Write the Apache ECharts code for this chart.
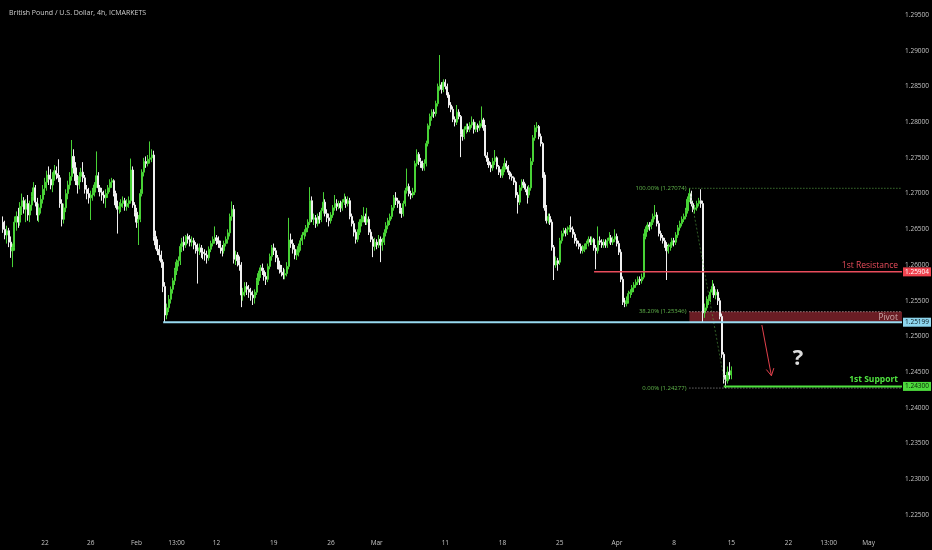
<!DOCTYPE html>
<html><head><meta charset="utf-8">
<script src="https://cdn.jsdelivr.net/npm/echarts@6/dist/echarts.min.js"></script>
<style>html,body{margin:0;padding:0;background:#000;}#c{width:932px;height:550px;}</style>
</head><body><div id="c"></div>
<script>
// ---- 4h candles [open, high, low, close], one array per trading week ----
const w0116 = [
[1.2660,1.2668,1.2645,1.2650],[1.2650,1.2662,1.2636,1.2642],[1.2642,1.2655,1.2630,1.2648],[1.2648,1.2652,1.2625,1.2632],
[1.2632,1.2640,1.2610,1.2620],[1.2620,1.2630,1.2597,1.2625],[1.2625,1.2668,1.2620,1.2660],[1.2660,1.2675,1.2648,1.2668],[1.2668,1.2680,1.2652,1.2660],[1.2660,1.2688,1.2655,1.2682],
[1.2682,1.2700,1.2670,1.2690],[1.2690,1.2695,1.2672,1.2678],[1.2678,1.2692,1.2660,1.2686],[1.2686,1.2698,1.2662,1.2670],[1.2670,1.2690,1.2660,1.2684],[1.2684,1.2702,1.2676,1.2696],
[1.2696,1.2716,1.2690,1.2708],[1.2708,1.2712,1.2682,1.2688],[1.2688,1.2694,1.2662,1.2670],[1.2670,1.2686,1.2660,1.2680],[1.2680,1.2698,1.2672,1.2692],[1.2692,1.2712,1.2686,1.2706]];
const w0122 = [
[1.2708,1.2722,1.2698,1.2716],[1.2716,1.2732,1.2704,1.2726],[1.2726,1.2738,1.2712,1.2720],[1.2720,1.2734,1.2706,1.2712],[1.2712,1.2730,1.2702,1.2726],[1.2726,1.2740,1.2718,1.2732],
[1.2732,1.2738,1.2720,1.2728],[1.2728,1.2748,1.2716,1.2722],[1.2722,1.2726,1.2680,1.2686],[1.2686,1.2692,1.2654,1.2664],[1.2664,1.2686,1.2658,1.2680],[1.2680,1.2706,1.2674,1.2700],
[1.2700,1.2718,1.2692,1.2712],[1.2712,1.2730,1.2706,1.2724],[1.2724,1.2775,1.2718,1.2752],[1.2752,1.2762,1.2728,1.2736],[1.2736,1.2744,1.2712,1.2718],[1.2718,1.2726,1.2700,1.2712],
[1.2712,1.2730,1.2706,1.2724],[1.2724,1.2736,1.2716,1.2730],[1.2730,1.2744,1.2716,1.2722],[1.2722,1.2726,1.2700,1.2706],[1.2706,1.2712,1.2692,1.2700],[1.2700,1.2708,1.2686,1.2694],
[1.2694,1.2704,1.2663,1.2698],[1.2698,1.2708,1.2690,1.2702],[1.2702,1.2716,1.2696,1.2712],[1.2712,1.2759,1.2708,1.2725],[1.2725,1.2730,1.2702,1.2708],[1.2708,1.2712,1.2696,1.2702]];
const w0129 = [
[1.2702,1.2708,1.2690,1.2698],[1.2698,1.2704,1.2686,1.2694],[1.2694,1.2706,1.2680,1.2700],[1.2700,1.2712,1.2694,1.2708],[1.2708,1.2720,1.2702,1.2716],[1.2716,1.2722,1.2708,1.2718],
[1.2718,1.2720,1.2696,1.2700],[1.2700,1.2704,1.2680,1.2684],[1.2684,1.2690,1.2644,1.2678],[1.2678,1.2688,1.2672,1.2682],[1.2682,1.2692,1.2674,1.2686],[1.2686,1.2696,1.2680,1.2690],
[1.2690,1.2694,1.2676,1.2682],[1.2682,1.2692,1.2676,1.2686],[1.2686,1.2696,1.2680,1.2690],[1.2690,1.2749,1.2686,1.2733],[1.2733,1.2738,1.2680,1.2684],[1.2684,1.2688,1.2668,1.2674],
[1.2674,1.2680,1.2652,1.2660],[1.2660,1.2670,1.2628,1.2664],[1.2664,1.2706,1.2660,1.2700],[1.2700,1.2734,1.2696,1.2730],[1.2730,1.2750,1.2724,1.2745],[1.2745,1.2752,1.2736,1.2742],
[1.2742,1.2754,1.2738,1.2748],[1.2748,1.2773,1.2742,1.2750],[1.2750,1.2762,1.2744,1.2754],[1.2754,1.2760,1.2634,1.2640],[1.2640,1.2648,1.2622,1.2628],[1.2628,1.2636,1.2614,1.2620]];
const w0205 = [
[1.2622,1.2628,1.2606,1.2614],[1.2614,1.2620,1.2596,1.2604],[1.2604,1.2608,1.2562,1.2570],[1.2570,1.2576,1.2519,1.2530],[1.2530,1.2546,1.2524,1.2540],[1.2540,1.2558,1.2534,1.2552],
[1.2552,1.2570,1.2546,1.2566],[1.2566,1.2582,1.2560,1.2578],[1.2578,1.2596,1.2572,1.2592],[1.2592,1.2608,1.2586,1.2604],[1.2604,1.2612,1.2598,1.2606],[1.2606,1.2630,1.2600,1.2626],
[1.2626,1.2638,1.2618,1.2632],[1.2632,1.2640,1.2620,1.2628],[1.2628,1.2642,1.2624,1.2640],[1.2640,1.2644,1.2630,1.2636],[1.2636,1.2642,1.2626,1.2632],[1.2632,1.2640,1.2626,1.2634],
[1.2634,1.2638,1.2622,1.2628],[1.2628,1.2632,1.2616,1.2622],[1.2622,1.2630,1.2574,1.2620],[1.2620,1.2630,1.2614,1.2624],[1.2624,1.2628,1.2610,1.2618],[1.2618,1.2624,1.2608,1.2616],
[1.2616,1.2622,1.2606,1.2614],[1.2614,1.2620,1.2602,1.2610],[1.2610,1.2626,1.2606,1.2622],[1.2622,1.2634,1.2618,1.2630],[1.2630,1.2640,1.2626,1.2636],[1.2636,1.2654,1.2630,1.2638]];
const w0212 = [
[1.2638,1.2642,1.2628,1.2634],[1.2634,1.2640,1.2624,1.2630],[1.2630,1.2634,1.2616,1.2624],[1.2624,1.2628,1.2612,1.2620],[1.2620,1.2634,1.2616,1.2630],[1.2630,1.2640,1.2626,1.2636],
[1.2636,1.2650,1.2630,1.2645],[1.2645,1.2672,1.2640,1.2668],[1.2668,1.2689,1.2662,1.2678],[1.2678,1.2684,1.2602,1.2608],[1.2608,1.2620,1.2600,1.2614],[1.2614,1.2618,1.2598,1.2606],
[1.2606,1.2612,1.2592,1.2600],[1.2600,1.2604,1.2541,1.2558],[1.2558,1.2568,1.2550,1.2562],[1.2562,1.2576,1.2556,1.2570],[1.2570,1.2576,1.2558,1.2566],[1.2566,1.2572,1.2554,1.2562],
[1.2562,1.2568,1.2550,1.2558],[1.2558,1.2564,1.2544,1.2554],[1.2554,1.2566,1.2546,1.2562],[1.2562,1.2582,1.2558,1.2578],[1.2578,1.2592,1.2572,1.2588],[1.2588,1.2600,1.2582,1.2596],
[1.2596,1.2602,1.2586,1.2592],[1.2592,1.2596,1.2578,1.2584],[1.2584,1.2590,1.2572,1.2580],[1.2580,1.2602,1.2576,1.2598],[1.2598,1.2616,1.2594,1.2612],[1.2612,1.2628,1.2606,1.2624]];
const w0219 = [
[1.2624,1.2630,1.2614,1.2620],[1.2620,1.2624,1.2604,1.2610],[1.2610,1.2614,1.2594,1.2600],[1.2600,1.2606,1.2588,1.2594],[1.2594,1.2600,1.2584,1.2590],[1.2590,1.2596,1.2580,1.2586],
[1.2586,1.2594,1.2580,1.2588],[1.2588,1.2604,1.2584,1.2598],[1.2598,1.2666,1.2594,1.2635],[1.2635,1.2644,1.2624,1.2630],[1.2630,1.2636,1.2616,1.2622],[1.2622,1.2628,1.2608,1.2614],
[1.2614,1.2622,1.2607,1.2618],[1.2618,1.2630,1.2612,1.2626],[1.2626,1.2638,1.2620,1.2634],[1.2634,1.2646,1.2628,1.2642],[1.2642,1.2650,1.2636,1.2646],[1.2646,1.2656,1.2640,1.2652],
[1.2652,1.2664,1.2646,1.2660],[1.2660,1.2709,1.2656,1.2690],[1.2690,1.2696,1.2660,1.2664],[1.2664,1.2672,1.2656,1.2666],[1.2666,1.2670,1.2652,1.2658],[1.2658,1.2672,1.2654,1.2668],
[1.2668,1.2674,1.2658,1.2664],[1.2664,1.2680,1.2660,1.2676],[1.2676,1.2702,1.2672,1.2688],[1.2688,1.2692,1.2668,1.2672],[1.2672,1.2678,1.2660,1.2666],[1.2666,1.2672,1.2654,1.2662]];
const w0226 = [
[1.2662,1.2674,1.2658,1.2670],[1.2670,1.2684,1.2666,1.2680],[1.2680,1.2698,1.2676,1.2686],[1.2686,1.2692,1.2676,1.2682],[1.2682,1.2690,1.2678,1.2686],[1.2686,1.2690,1.2674,1.2680],
[1.2680,1.2692,1.2676,1.2688],[1.2688,1.2700,1.2684,1.2692],[1.2692,1.2696,1.2680,1.2686],[1.2686,1.2696,1.2682,1.2690],[1.2690,1.2694,1.2664,1.2668],[1.2668,1.2672,1.2654,1.2658],
[1.2658,1.2662,1.2640,1.2646],[1.2646,1.2650,1.2630,1.2636],[1.2636,1.2650,1.2632,1.2646],[1.2646,1.2664,1.2642,1.2660],[1.2660,1.2670,1.2654,1.2664],[1.2664,1.2681,1.2660,1.2668],
[1.2668,1.2672,1.2656,1.2660],[1.2660,1.2680,1.2656,1.2664],[1.2664,1.2668,1.2642,1.2646],[1.2646,1.2650,1.2632,1.2636],[1.2636,1.2640,1.2611,1.2626],[1.2626,1.2638,1.2620,1.2632],
[1.2632,1.2636,1.2622,1.2628],[1.2628,1.2642,1.2624,1.2636],[1.2636,1.2640,1.2604,1.2628],[1.2628,1.2638,1.2620,1.2632],[1.2632,1.2650,1.2628,1.2645],[1.2645,1.2660,1.2640,1.2655]];
const w0304 = [
[1.2655,1.2666,1.2650,1.2662],[1.2662,1.2672,1.2656,1.2668],[1.2668,1.2684,1.2664,1.2680],[1.2680,1.2698,1.2676,1.2694],[1.2694,1.2702,1.2684,1.2690],[1.2690,1.2694,1.2680,1.2686],
[1.2686,1.2690,1.2672,1.2676],[1.2676,1.2680,1.2666,1.2672],[1.2672,1.2690,1.2668,1.2686],[1.2686,1.2708,1.2682,1.2704],[1.2704,1.2735,1.2700,1.2710],[1.2710,1.2714,1.2696,1.2700],
[1.2700,1.2704,1.2692,1.2698],[1.2698,1.2708,1.2694,1.2702],[1.2702,1.2746,1.2698,1.2742],[1.2742,1.2762,1.2738,1.2755],[1.2755,1.2758,1.2740,1.2745],[1.2745,1.2750,1.2736,1.2742],
[1.2742,1.2746,1.2732,1.2736],[1.2736,1.2748,1.2732,1.2742],[1.2742,1.2774,1.2738,1.2770],[1.2770,1.2798,1.2766,1.2795],[1.2795,1.2812,1.2790,1.2808],[1.2808,1.2818,1.2802,1.2814],
[1.2814,1.2818,1.2806,1.2812],[1.2812,1.2830,1.2808,1.2826],[1.2826,1.2854,1.2822,1.2850],[1.2850,1.2894,1.2844,1.2852],[1.2852,1.2856,1.2840,1.2846],[1.2846,1.2860,1.2842,1.2856]];
const w0311 = [
[1.2856,1.2860,1.2846,1.2850],[1.2850,1.2854,1.2834,1.2838],[1.2838,1.2842,1.2820,1.2824],[1.2824,1.2828,1.2814,1.2818],[1.2818,1.2822,1.2800,1.2804],[1.2804,1.2808,1.2794,1.2800],
[1.2800,1.2824,1.2796,1.2814],[1.2814,1.2818,1.2804,1.2808],[1.2808,1.2810,1.2751,1.2783],[1.2783,1.2790,1.2774,1.2780],[1.2780,1.2794,1.2776,1.2790],[1.2790,1.2798,1.2784,1.2794],
[1.2794,1.2798,1.2786,1.2790],[1.2790,1.2800,1.2786,1.2796],[1.2796,1.2808,1.2792,1.2800],[1.2800,1.2804,1.2784,1.2790],[1.2790,1.2800,1.2786,1.2795],[1.2795,1.2798,1.2786,1.2792],
[1.2792,1.2802,1.2788,1.2798],[1.2798,1.2822,1.2794,1.2803],[1.2803,1.2806,1.2788,1.2792],[1.2792,1.2796,1.2750,1.2753],[1.2753,1.2758,1.2740,1.2745],[1.2745,1.2750,1.2736,1.2740],
[1.2740,1.2744,1.2730,1.2736],[1.2736,1.2750,1.2732,1.2745],[1.2745,1.2761,1.2740,1.2750],[1.2750,1.2752,1.2734,1.2738],[1.2738,1.2740,1.2726,1.2730],[1.2730,1.2734,1.2722,1.2726]];
const w0318 = [
[1.2726,1.2738,1.2722,1.2734],[1.2734,1.2750,1.2730,1.2742],[1.2742,1.2746,1.2734,1.2738],[1.2738,1.2740,1.2726,1.2730],[1.2730,1.2732,1.2720,1.2724],[1.2724,1.2728,1.2718,1.2722],
[1.2722,1.2724,1.2712,1.2716],[1.2716,1.2718,1.2694,1.2698],[1.2698,1.2702,1.2672,1.2688],[1.2688,1.2712,1.2684,1.2708],[1.2708,1.2720,1.2704,1.2716],[1.2716,1.2720,1.2708,1.2712],
[1.2712,1.2714,1.2702,1.2706],[1.2706,1.2710,1.2686,1.2698],[1.2698,1.2712,1.2694,1.2708],[1.2708,1.2750,1.2704,1.2745],[1.2745,1.2782,1.2740,1.2778],[1.2778,1.2796,1.2774,1.2792],
[1.2792,1.2800,1.2786,1.2794],[1.2794,1.2796,1.2776,1.2780],[1.2780,1.2784,1.2766,1.2770],[1.2770,1.2772,1.2722,1.2726],[1.2726,1.2730,1.2676,1.2680],[1.2680,1.2684,1.2658,1.2662],
[1.2662,1.2672,1.2658,1.2668],[1.2668,1.2672,1.2656,1.2660],[1.2660,1.2664,1.2620,1.2625],[1.2625,1.2628,1.2579,1.2600],[1.2600,1.2612,1.2596,1.2606],[1.2606,1.2610,1.2592,1.2602]];
const w0325 = [
[1.2604,1.2638,1.2600,1.2634],[1.2634,1.2648,1.2630,1.2644],[1.2644,1.2652,1.2640,1.2648],[1.2648,1.2652,1.2640,1.2645],[1.2645,1.2654,1.2642,1.2650],[1.2650,1.2656,1.2646,1.2652],
[1.2652,1.2668,1.2646,1.2650],[1.2650,1.2654,1.2638,1.2643],[1.2643,1.2646,1.2630,1.2634],[1.2634,1.2638,1.2626,1.2630],[1.2630,1.2634,1.2622,1.2626],[1.2626,1.2630,1.2616,1.2620],
[1.2620,1.2628,1.2616,1.2622],[1.2622,1.2630,1.2618,1.2626],[1.2626,1.2634,1.2622,1.2630],[1.2630,1.2640,1.2626,1.2636],[1.2636,1.2640,1.2628,1.2632],[1.2632,1.2640,1.2628,1.2636],
[1.2636,1.2638,1.2620,1.2624],[1.2624,1.2628,1.2594,1.2620],[1.2620,1.2654,1.2616,1.2634],[1.2634,1.2640,1.2628,1.2632],[1.2632,1.2636,1.2624,1.2628],[1.2628,1.2636,1.2624,1.2632],
[1.2632,1.2636,1.2624,1.2628],[1.2628,1.2638,1.2624,1.2634],[1.2634,1.2646,1.2630,1.2638],[1.2638,1.2642,1.2628,1.2632],[1.2632,1.2640,1.2628,1.2636],[1.2636,1.2650,1.2632,1.2640]];
const w0401 = [
[1.2640,1.2644,1.2626,1.2630],[1.2630,1.2634,1.2614,1.2618],[1.2618,1.2622,1.2576,1.2580],[1.2580,1.2584,1.2544,1.2548],[1.2548,1.2554,1.2541,1.2546],[1.2546,1.2556,1.2542,1.2550],
[1.2550,1.2564,1.2546,1.2560],[1.2560,1.2566,1.2554,1.2562],[1.2562,1.2572,1.2558,1.2568],[1.2568,1.2576,1.2562,1.2572],[1.2572,1.2580,1.2568,1.2576],[1.2576,1.2584,1.2572,1.2580],
[1.2580,1.2584,1.2572,1.2578],[1.2578,1.2588,1.2574,1.2583],[1.2583,1.2644,1.2580,1.2640],[1.2640,1.2654,1.2636,1.2650],[1.2650,1.2660,1.2646,1.2656],[1.2656,1.2660,1.2648,1.2654],
[1.2654,1.2664,1.2650,1.2660],[1.2660,1.2672,1.2656,1.2668],[1.2668,1.2684,1.2664,1.2670],[1.2670,1.2674,1.2654,1.2658],[1.2658,1.2662,1.2640,1.2644],[1.2644,1.2648,1.2634,1.2638],
[1.2638,1.2642,1.2630,1.2634],[1.2634,1.2638,1.2624,1.2628],[1.2628,1.2632,1.2579,1.2620],[1.2620,1.2630,1.2616,1.2626],[1.2626,1.2632,1.2620,1.2628],[1.2628,1.2638,1.2624,1.2634]];
const w0408 = [
[1.2634,1.2638,1.2626,1.2632],[1.2632,1.2646,1.2628,1.2642],[1.2642,1.2656,1.2638,1.2652],[1.2652,1.2662,1.2648,1.2658],[1.2658,1.2668,1.2654,1.2664],[1.2664,1.2672,1.2660,1.2668],
[1.2668,1.2680,1.2664,1.2676],[1.2676,1.2696,1.2672,1.2692],[1.2692,1.2707,1.2688,1.2700],[1.2700,1.2704,1.2682,1.2686],[1.2686,1.2690,1.2674,1.2678],[1.2678,1.2684,1.2672,1.2680],
[1.2680,1.2690,1.2676,1.2686],[1.2686,1.2694,1.2682,1.2690],[1.2690,1.2706,1.2680,1.2686],[1.2686,1.2690,1.2520,1.2533],[1.2533,1.2546,1.2526,1.2540],[1.2540,1.2556,1.2536,1.2550],
[1.2550,1.2558,1.2544,1.2552],[1.2552,1.2566,1.2548,1.2562],[1.2562,1.2579,1.2558,1.2570],[1.2570,1.2574,1.2554,1.2558],[1.2558,1.2566,1.2552,1.2562],[1.2562,1.2566,1.2544,1.2550],
[1.2550,1.2554,1.2524,1.2528],[1.2528,1.2532,1.2470,1.2475],[1.2475,1.2478,1.2434,1.2440],[1.2440,1.2446,1.24277,1.2438],[1.2438,1.2458,1.2434,1.2450],[1.2450,1.2464,1.2440,1.2446]];
const w0415 = [
[1.2446,1.2458,1.2440,1.2452]];

// ---- axis tick labels ----
const yTicks = [1.225,1.230,1.235,1.240,1.245,1.250,1.255,1.260,1.265,1.270,1.275,1.280,1.285,1.290,1.295];
const tickDates = ['2024-01-22 01:00','2024-01-26 01:00','2024-02-01 01:00','2024-02-06 13:00','2024-02-12 01:00','2024-02-19 01:00','2024-02-26 01:00','2024-03-01 01:00','2024-03-11 01:00','2024-03-18 01:00','2024-03-25 01:00','2024-04-01 01:00','2024-04-08 01:00','2024-04-15 01:00','2024-04-22 01:00','2024-04-25 13:00','2024-05-01 01:00'];
const tickTexts = ['22','26','Feb','13:00','12','19','26','Mar','11','18','25','Apr','8','15','22','13:00','May'];

// ---- drawing annotations (values in price / bar index) ----
const resistance = {label:'1st Resistance', price:1.25904, from:310};
const pivot = {label:'Pivot', price:1.25199, from:84};
const support = {label:'1st Support', price:1.24300, from:378};
const fibHigh = {idx:360, price:1.27074};
const fibLow = {idx:379, price:1.24277};
const fibLevels = [{pct:'100.00%', price:1.27074},{pct:'38.20%', price:1.25346},{pct:'0.00%', price:1.24277}];
const arrowFrom = [398, 1.2516];
const arrowTo = [403, 1.2445];
const questionMark = [417, 1.2469];

const TITLE = 'British Pound / U.S. Dollar, 4h, ICMARKETS';

// ---- build categories (4h trading bars) ----
const N_BARS = 472;
const hours = ['01:00','05:00','09:00','13:00','17:00','21:00'];
const categories = [];
(function(){
  let t = Date.UTC(2024,0,16);
  let first = true;
  while (categories.length < N_BARS) {
    const d = new Date(t);
    const dow = d.getUTCDay();
    if (dow !== 0 && dow !== 6) {
      const ds = d.toISOString().slice(0,10);
      for (let h = 0; h < 6 && categories.length < N_BARS; h++) {
        if (first && h < 2) continue;
        categories.push(ds + ' ' + hours[h]);
      }
      first = false;
    }
    t += 86400000;
  }
})();
const tickMap = {};
tickDates.forEach((d,i)=>{ tickMap[d] = tickTexts[i]; });

const candles = [].concat(w0116,w0122,w0129,w0205,w0212,w0219,w0226,w0304,w0311,w0318,w0325,w0401,w0408,w0415);
const candleData = candles.map(r => [r[0], r[3], r[2], r[1]]);

const FONT = '"Open Sans","Noto Sans",sans-serif';
const UP = '#48d236', DOWN = '#f0f0f0';
const RES_C = '#ea4d5c', PIV_C = '#98daf0', SUP_C = '#4fe33f';
const FIB_TXT = '#62b84c';

function renderZone(params, api) {
  const cs = params.coordSys, R = cs.x + cs.width;
  const a = api.coord([fibHigh.idx, fibLevels[1].price]);
  const b = api.coord([fibHigh.idx, pivot.price]);
  return {type:'rect', shape:{x:a[0], y:a[1], width:R - a[0], height:b[1] - a[1]}, style:{fill:'#6a1d24'}};
}

function renderAnnot(params, api) {
  const cs = params.coordSys, R = cs.x + cs.width;
  const pt = (i,p) => api.coord([i,p]);
  const kids = [];
  function seg(a, b, stroke, lw, dash) {
    kids.push({type:'line', shape:{x1:a[0],y1:a[1],x2:b[0],y2:b[1]}, style:{stroke:stroke, lineWidth:lw, lineDash:dash||null, fill:null}});
  }
  function txt(x, y, text, fill, size, align, vAlign, weight, extra) {
    kids.push({type:'text', x:x, y:y, style:Object.assign({text:text, fill:fill, fontSize:size, fontFamily:FONT, fontWeight:weight||'normal', align:align, verticalAlign:vAlign}, extra||{})});
  }
  // fib tool
  const fh = pt(fibHigh.idx, fibHigh.price), fl = pt(fibLow.idx, fibLow.price);
  seg(fh, fl, 'rgba(90,170,70,0.55)', 1, [2,2]);
  const fibColors = ['#5aa846','#d8bcbc','#a0a0a0'];
  fibLevels.forEach((lv, k) => {
    const y = pt(fibHigh.idx, lv.price)[1];
    seg([fh[0], y], [R, y], fibColors[k], 1, [1,2]);
    txt(fh[0] - 3, y, lv.pct + ' (' + lv.price.toFixed(5) + ')', FIB_TXT, 6, 'right', 'middle');
  });
  // horizontal levels
  const pr = pt(resistance.from, resistance.price);
  seg(pr, [R, pr[1]], RES_C, 1.5);
  const pp = pt(pivot.from, pivot.price);
  seg(pp, [R, pp[1]], PIV_C, 2);
  const ps = pt(support.from, support.price);
  seg(ps, [R, ps[1]], SUP_C, 2);
  txt(R - 4, pr[1] - 2, resistance.label, RES_C, 8.5, 'right', 'bottom');
  const y382 = pt(fibHigh.idx, fibLevels[1].price)[1];
  txt(R - 4, (y382 + pp[1]) / 2 + 0.5, pivot.label, '#c9a9a9', 8.5, 'right', 'middle');
  txt(R - 4, ps[1] - 2, support.label, SUP_C, 8.5, 'right', 'bottom', 'bold');
  // price tags on the axis
  txt(R + 1, pr[1], resistance.price.toFixed(5), '#ffffff', 6.5, 'left', 'middle', 'normal', {backgroundColor:'#f0434f', padding:[1,2,1,2]});
  txt(R + 1, pp[1], pivot.price.toFixed(5), '#0a1a20', 6.5, 'left', 'middle', 'normal', {backgroundColor:'#8ed6ee', padding:[1,2,1,2]});
  txt(R + 1, ps[1], support.price.toFixed(5), '#0a2008', 6.5, 'left', 'middle', 'normal', {backgroundColor:'#4cd93c', padding:[1,2,1,2]});
  // arrow
  const a = pt(arrowFrom[0], arrowFrom[1]), b = pt(arrowTo[0], arrowTo[1]);
  seg(a, b, '#e2414c', 1);
  const ang = Math.atan2(b[1] - a[1], b[0] - a[0]);
  [0.5, -0.5].forEach(d => {
    seg([b[0] - 8 * Math.cos(ang + d), b[1] - 8 * Math.sin(ang + d)], b, '#e2414c', 1);
  });
  // question mark
  const q = pt(questionMark[0], questionMark[1]);
  txt(q[0], q[1], '?', '#dcdcdc', 22, 'center', 'middle', 'bold');
  return {type:'group', children:kids};
}

const chart = echarts.init(document.getElementById('c'), null, {renderer:'canvas'});
chart.setOption({
  backgroundColor:'#000000',
  animation:false,
  title:{text:TITLE, left:4, top:4, textStyle:{color:'#cfcfcf', fontSize:7, fontWeight:'normal', fontFamily:FONT}},
  grid:{left:0, right:30, top:0, bottom:22},
  xAxis:{
    type:'category', data:categories, boundaryGap:true,
    axisLine:{show:false}, axisTick:{show:false}, splitLine:{show:false},
    axisLabel:{interval:0, color:'#c4c4c4', fontSize:6.5, margin:12, fontFamily:FONT, formatter:(v)=>tickMap[v]||''}
  },
  yAxis:{
    type:'value', position:'right', min:1.22318, max:1.29710,
    splitLine:{show:false}, axisLine:{show:false}, axisTick:{show:false},
    axisLabel:{customValues:yTicks, formatter:(v)=>v.toFixed(5), color:'#c4c4c4', fontSize:6.5, margin:3, fontFamily:FONT}
  },
  series:[
    {type:'custom', z:1, clip:false, silent:true, data:[[0, pivot.price]], renderItem:renderZone},
    {type:'candlestick', z:3, silent:true, data:candleData, barWidth:1.6,
      itemStyle:{color:UP, color0:DOWN, borderColor:UP, borderColor0:DOWN, borderWidth:1}},
    {type:'custom', z:5, clip:false, silent:true, data:[[0, pivot.price]], renderItem:renderAnnot}
  ]
});
</script>
</body></html>
